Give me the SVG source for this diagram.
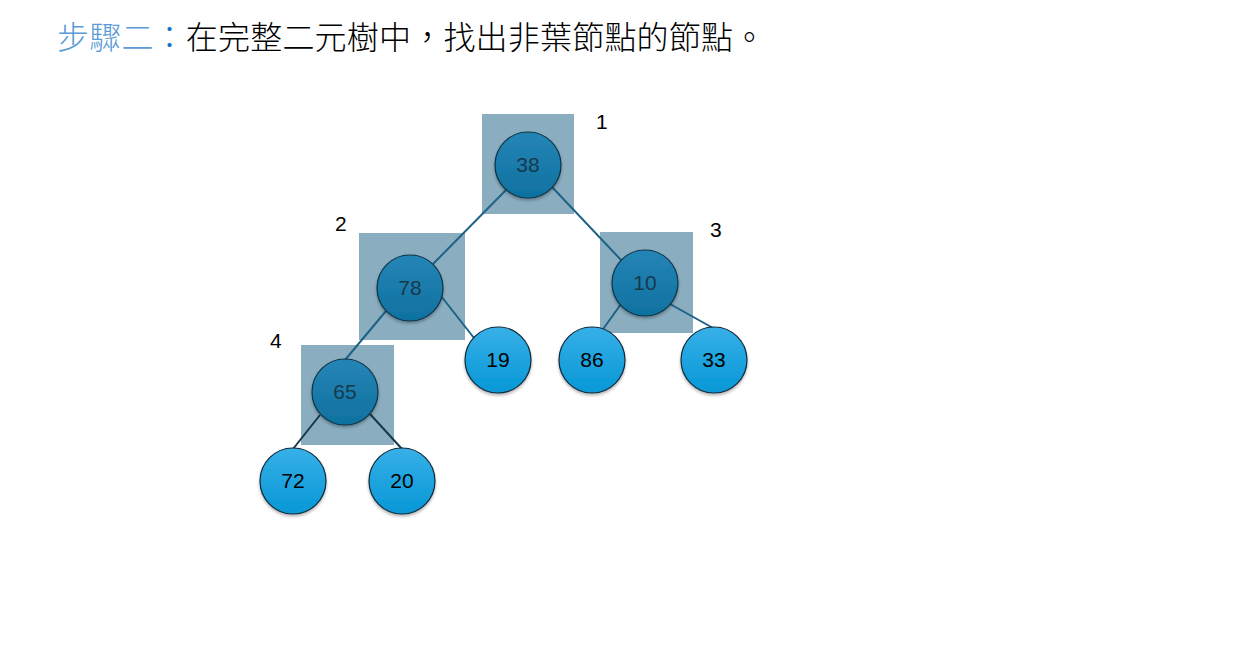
<svg xmlns="http://www.w3.org/2000/svg" width="1241" height="669" viewBox="0 0 1241 669">
<style>
.title{font-family:"Noto Sans CJK TC","Noto Sans CJK SC",sans-serif;font-size:32px;font-weight:300;letter-spacing:0.2px;}
.box{fill:#8aadbf;}
.edge{stroke:#1d6286;stroke-width:2;fill:none;}
.edge-dark{stroke:#16394a;stroke-width:2;fill:none;}
.leaf{fill:url(#gLight);stroke:#0d2a3a;stroke-width:1.2;filter:url(#sh);}
.inner{fill:url(#gDark);stroke:#0f3448;stroke-width:1.2;filter:url(#sh);}
.num{font-family:"Liberation Sans",Arial,sans-serif;font-size:21px;text-anchor:middle;fill:#000;}
.num-dark{font-family:"Liberation Sans",Arial,sans-serif;font-size:21px;text-anchor:middle;fill:#17394c;}
.lbl{font-family:"Liberation Sans",Arial,sans-serif;font-size:21px;fill:#000;}
</style>
<defs>
<linearGradient id="gLight" x1="0" y1="0" x2="0" y2="1">
<stop offset="0" stop-color="#38b0e8"/>
<stop offset="1" stop-color="#0697d6"/>
</linearGradient>
<linearGradient id="gDark" x1="0" y1="0" x2="0" y2="1">
<stop offset="0" stop-color="#2585b7"/>
<stop offset="1" stop-color="#0f719f"/>
</linearGradient>
<filter id="sh" x="-30%" y="-30%" width="160%" height="170%">
<feDropShadow dx="0" dy="2" stdDeviation="1.5" flood-color="#000" flood-opacity="0.3"/>
</filter>
</defs>
<rect width="1241" height="669" fill="#fff"/>
<text class="title" x="57" y="49"><tspan fill="#5b9bd5">步驟二</tspan><tspan fill="#1c6fc0">：</tspan><tspan fill="#000">在完整二元樹中，找出非葉節點的節點。</tspan></text>

<g id="boxes">
<rect class="box" x="482" y="114" width="92" height="100"/>
<rect class="box" x="359" y="233" width="106" height="107"/>
<rect class="box" x="600" y="232" width="93" height="101"/>
<rect class="box" x="301" y="345" width="93" height="100"/>
</g>

<g id="connectors">
<line class="edge" x1="507" y1="189" x2="433" y2="264"/>
<line class="edge" x1="552" y1="187" x2="622" y2="261"/>
<line class="edge" x1="441" y1="296" x2="474" y2="338"/>
<line class="edge" x1="386" y1="311" x2="345" y2="360"/>
<line class="edge-dark" x1="320" y1="415" x2="293" y2="449"/>
<line class="edge-dark" x1="370" y1="414" x2="402" y2="449"/>
<line class="edge" x1="621" y1="304" x2="601" y2="332"/>
<line class="edge" x1="670" y1="304" x2="713" y2="328"/>
</g>

<g id="node-38"><circle class="inner" cx="528" cy="165" r="33"/><text class="num-dark" x="528" y="172">38</text></g>
<g id="node-78"><circle class="inner" cx="410" cy="288" r="33"/><text class="num-dark" x="410" y="295">78</text></g>
<g id="node-10"><circle class="inner" cx="645" cy="283" r="33"/><text class="num-dark" x="645" y="290">10</text></g>
<g id="node-65"><circle class="inner" cx="345" cy="392" r="33"/><text class="num-dark" x="345" y="399">65</text></g>
<g id="node-19"><circle class="leaf" cx="498" cy="360" r="33"/><text class="num" x="498" y="367">19</text></g>
<g id="node-86"><circle class="leaf" cx="592" cy="360" r="33"/><text class="num" x="592" y="367">86</text></g>
<g id="node-33"><circle class="leaf" cx="714" cy="360" r="33"/><text class="num" x="714" y="367">33</text></g>
<g id="node-72"><circle class="leaf" cx="293" cy="481" r="33"/><text class="num" x="293" y="488">72</text></g>
<g id="node-20"><circle class="leaf" cx="402" cy="481" r="33"/><text class="num" x="402" y="488">20</text></g>

<g id="labels">
<text class="lbl" x="596" y="129">1</text>
<text class="lbl" x="335" y="231">2</text>
<text class="lbl" x="710" y="237">3</text>
<text class="lbl" x="270" y="348">4</text>
</g>
</svg>
